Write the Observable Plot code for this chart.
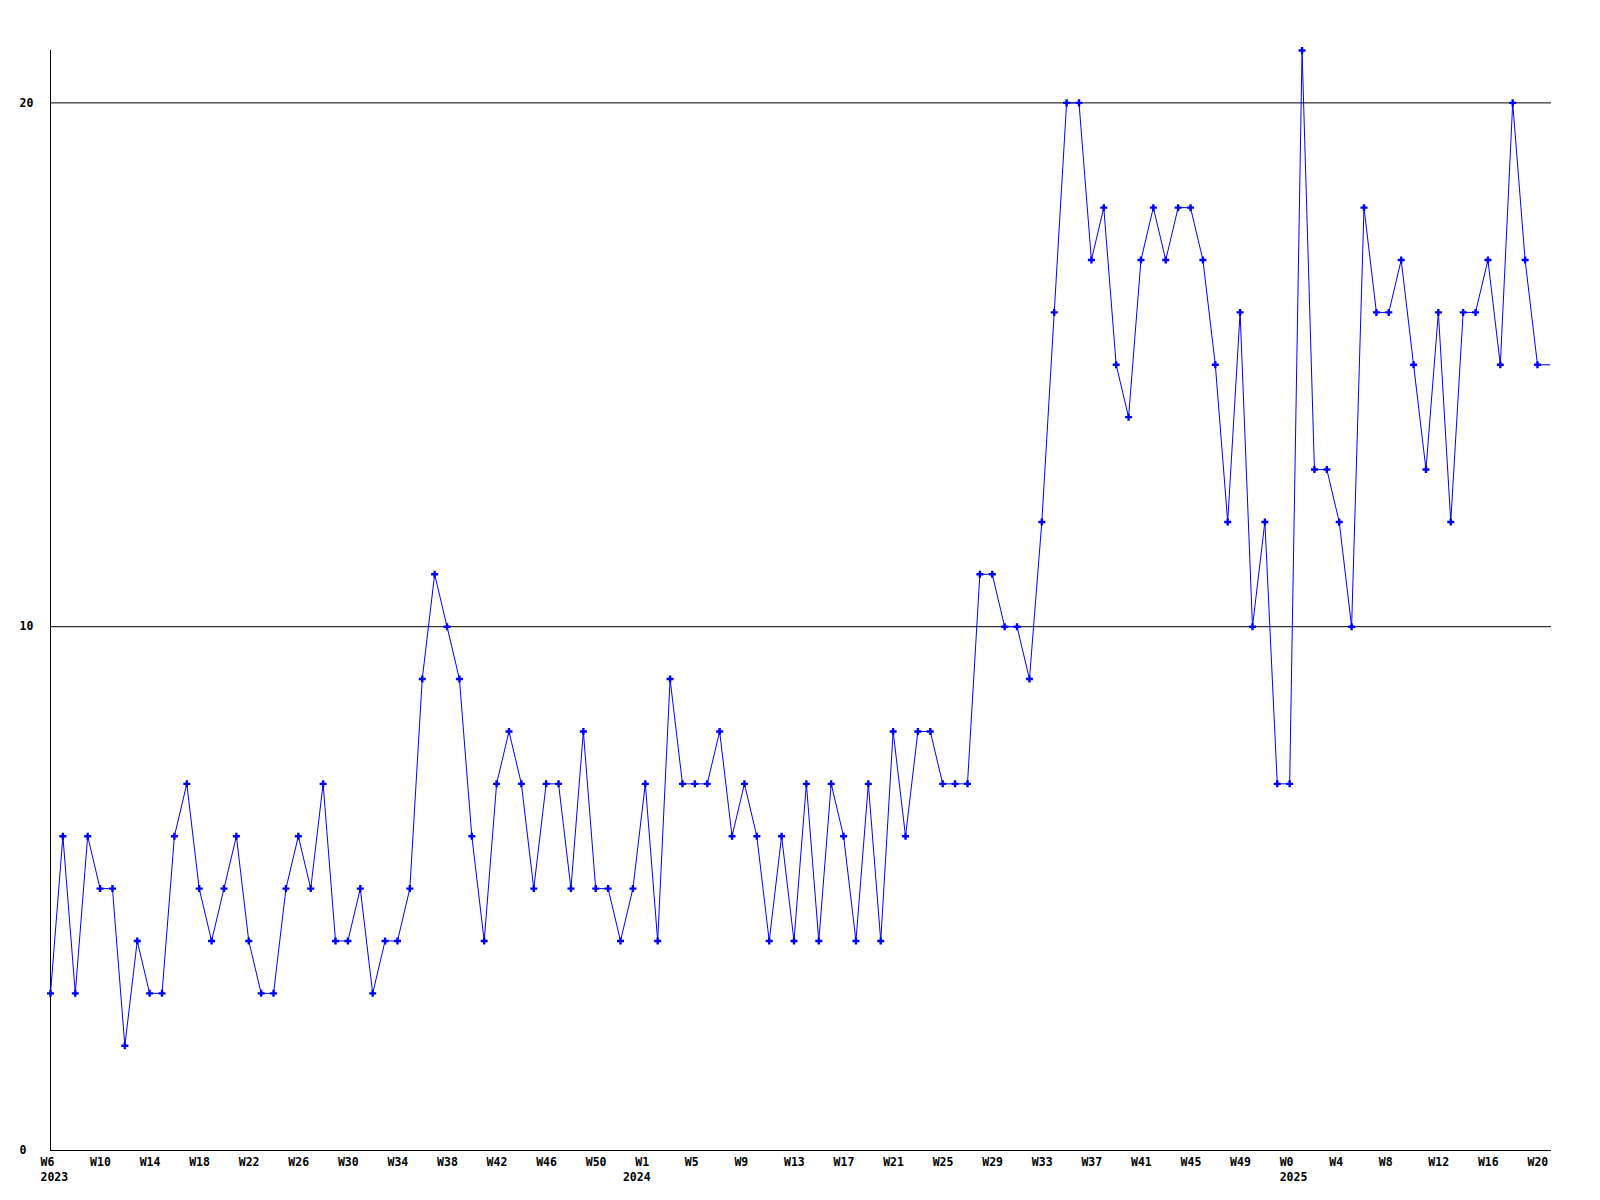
<!DOCTYPE html>
<html><head><meta charset="utf-8">
<script src="https://cdn.jsdelivr.net/npm/d3@7"></script>
<script src="https://cdn.jsdelivr.net/npm/@observablehq/plot@0.6"></script>
<style>
html,body{margin:0;padding:0;background:#fff}
#chart svg{display:block}
</style>
</head><body><div id="chart"></div>
<script>
// Weekly values, one per week starting at W6 2023 (last value carries the line to the right edge)
const values = [
  3,6,3,6,5,5,2,4,3,3,
  6,7,5,4,5,6,4,3,3,5,
  6,5,7,4,4,5,3,4,4,5,
  9,11,10,9,6,4,7,8,7,5,
  7,7,5,8,5,5,4,5,7,4,
  9,7,7,7,8,6,7,6,4,6,
  4,7,4,7,6,4,7,4,8,6,
  8,8,7,7,7,11,11,10,10,9,
  12,16,20,20,17,18,15,14,17,18,
  17,18,18,17,15,12,16,10,12,7,
  7,21,13,13,12,10,18,16,16,17,
  15,13,16,12,16,16,17,15,20,17,
  15,15
];
// Tick labels, one every 4 weeks
const tickLabels = [
  "W6","W10","W14","W18","W22","W26","W30","W34","W38","W42","W46","W50",
  "W1","W5","W9","W13","W17","W21","W25","W29","W33","W37","W41","W45","W49",
  "W0","W4","W8","W12","W16","W20"
];
const years = ["2023","2024","2025"];
const yearWeek = [0, 47, 100];
const yTicks = [0, 10, 20];
const gridValues = [10, 20];

const data = values.map((v, i) => ({week: i, value: v}));
const markers = data.slice(0, values.length - 1);
const tickWeeks = tickLabels.map((_, i) => i * 4);
const yearData = years.map((y, i) => ({label: y, week: yearWeek[i]}));

const FONT = "'DejaVu Sans Mono', 'Liberation Mono', monospace";

const chart = Plot.plot({
  width: 1600,
  height: 1200,
  marginLeft: 50,
  marginTop: 50,
  marginBottom: 50,
  marginRight: 49,
  style: {fontFamily: FONT, fontSize: "11.5px", fontWeight: "bold", color: "#000", background: "#fff"},
  x: {domain: [0, 121.13], axis: null},
  y: {domain: [0, 21], axis: null},
  marks: [
    Plot.ruleY(gridValues, {stroke: "#000", strokeWidth: 1}),
    Plot.ruleX([0], {stroke: "#000", strokeWidth: 1}),
    Plot.ruleY([0], {stroke: "#000", strokeWidth: 1}),
    Plot.axisY(yTicks, {tickSize: 0, tickPadding: 0, textAnchor: "start", dx: -31, tickFormat: d => String(d), fill: "#000", fontWeight: "bold", label: null}),
    Plot.axisX(tickWeeks, {tickSize: 0, tickPadding: 7, textAnchor: "start", dx: -10, tickFormat: (d, i) => tickLabels[i], fill: "#000", fontWeight: "bold", label: null}),
    Plot.text(yearData, {x: "week", text: "label", frameAnchor: "bottom", dy: 27, dx: -10, textAnchor: "start", lineAnchor: "middle", fill: "#000", fontWeight: "bold"}),
    Plot.line(data, {x: "week", y: "value", stroke: "#0000ff", strokeWidth: 1}),
    Plot.dot(markers, {x: "week", y: "value", symbol: "plus", r: 2.4, stroke: "#0000ff", strokeWidth: 2.4, fill: "none"})
  ]
});
document.getElementById("chart").appendChild(chart);
</script>
</body></html>
